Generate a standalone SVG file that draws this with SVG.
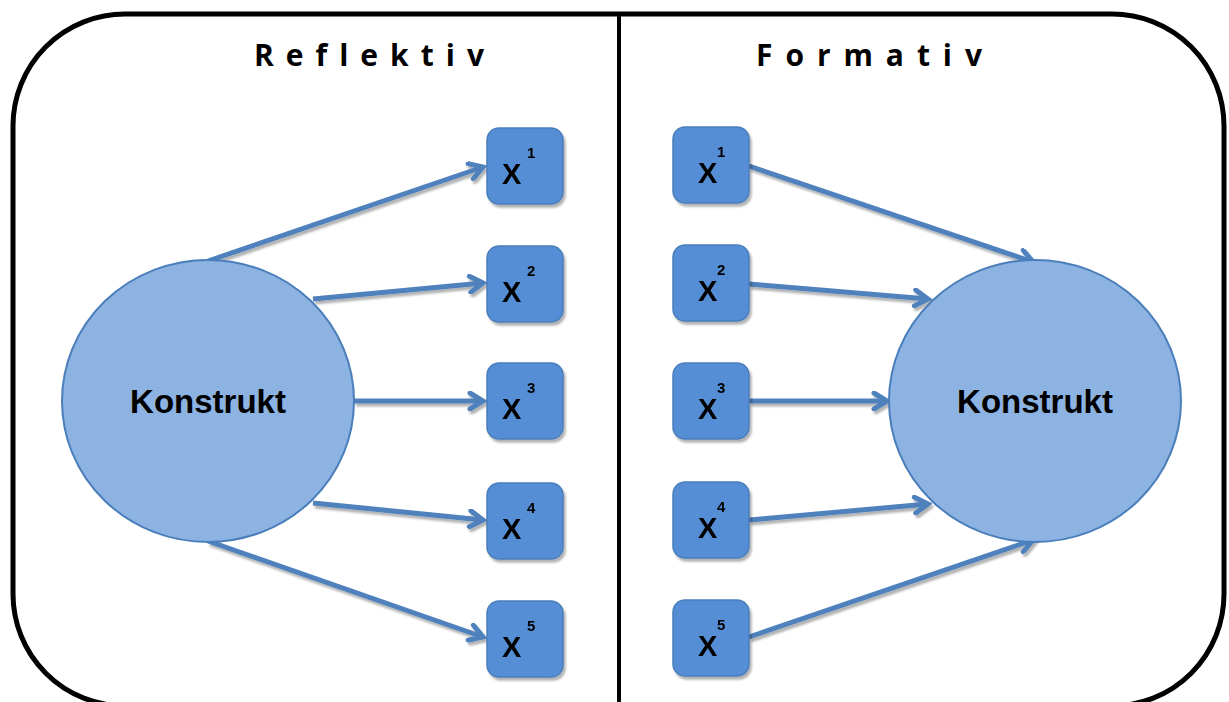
<svg xmlns="http://www.w3.org/2000/svg" width="1229" height="702" viewBox="0 0 1229 702">
<style>
.title{font-family:"Open Sans","Liberation Sans",Arial,sans-serif;font-weight:bold;font-size:30px;fill:#000}
.big{font-family:"Liberation Sans",Arial,sans-serif;font-weight:bold;font-size:33px;fill:#000;text-anchor:middle}
.x{font-family:"Liberation Sans",Arial,sans-serif;font-weight:bold;font-size:29px;fill:#000}
.sup{font-family:"Liberation Sans",Arial,sans-serif;font-weight:bold;font-size:15px;fill:#000}
.circ{fill:#8DB3E2;stroke:#4A7EBB;stroke-width:2}
.box{fill:#558ED5;stroke:#4A7EBB;stroke-width:1.5}
.con{stroke:#4F81BD;stroke-width:5;fill:none;marker-end:url(#arr)}
</style>
<defs>
<marker id="arr" viewBox="-16 -10 20 20" refX="0" refY="0" markerWidth="20" markerHeight="20" markerUnits="userSpaceOnUse" orient="auto">
<path d="M-13,-8 L0,0 L-13,8" fill="none" stroke="#4F81BD" stroke-width="5" stroke-linecap="round" stroke-linejoin="miter"/>
</marker>
<filter id="sh" x="-20%" y="-20%" width="140%" height="140%">
<feDropShadow dx="2" dy="3" stdDeviation="1.2" flood-color="#000" flood-opacity="0.3"/>
</filter>
</defs>
<rect x="13" y="14" width="1211" height="692" rx="112" ry="112" fill="#fff" stroke="#000" stroke-width="5"/>
<line x1="619" y1="14" x2="619" y2="702" stroke="#000" stroke-width="4"/>
<text class="title" x="254" y="66" textLength="230" lengthAdjust="spacing">R e f l e k t i v</text>
<text class="title" x="756" y="66" textLength="226" lengthAdjust="spacing">F o r m a t i v</text>
<g id="connectors" filter="url(#sh)">
<line class="con" x1="208" y1="261" x2="483" y2="167"/>
<line class="con" x1="313" y1="299" x2="483" y2="283"/>
<line class="con" x1="354" y1="401" x2="483" y2="401"/>
<line class="con" x1="313" y1="503" x2="483" y2="520"/>
<line class="con" x1="208" y1="541" x2="483" y2="637"/>
<line class="con" x1="749" y1="166" x2="1033" y2="262"/>
<line class="con" x1="749" y1="284" x2="928" y2="299"/>
<line class="con" x1="749" y1="401" x2="887" y2="401"/>
<line class="con" x1="749" y1="520" x2="928" y2="504"/>
<line class="con" x1="749" y1="637" x2="1033" y2="540"/>
</g>
<g id="konstrukt-left">
<ellipse class="circ" cx="208" cy="401" rx="146" ry="141"/>
<text class="big" x="208" y="413">Konstrukt</text>
</g>
<g id="konstrukt-right">
<ellipse class="circ" cx="1035" cy="401" rx="146" ry="141"/>
<text class="big" x="1035" y="413">Konstrukt</text>
</g>
<g id="l-x1" filter="url(#sh)"><rect class="box" x="487" y="128" width="76" height="76" rx="12"/><text class="x" x="502" y="184">X</text><text class="sup" x="527" y="158">1</text></g>
<g id="l-x2" filter="url(#sh)"><rect class="box" x="487" y="246" width="76" height="76" rx="12"/><text class="x" x="502" y="302">X</text><text class="sup" x="527" y="276">2</text></g>
<g id="l-x3" filter="url(#sh)"><rect class="box" x="487" y="363" width="76" height="76" rx="12"/><text class="x" x="502" y="419">X</text><text class="sup" x="527" y="393">3</text></g>
<g id="l-x4" filter="url(#sh)"><rect class="box" x="487" y="483" width="76" height="76" rx="12"/><text class="x" x="502" y="539">X</text><text class="sup" x="527" y="513">4</text></g>
<g id="l-x5" filter="url(#sh)"><rect class="box" x="487" y="601" width="76" height="76" rx="12"/><text class="x" x="502" y="657">X</text><text class="sup" x="527" y="631">5</text></g>
<g id="r-x1" filter="url(#sh)"><rect class="box" x="673" y="127" width="76" height="76" rx="12"/><text class="x" x="698" y="183">X</text><text class="sup" x="717" y="157">1</text></g>
<g id="r-x2" filter="url(#sh)"><rect class="box" x="673" y="245" width="76" height="76" rx="12"/><text class="x" x="698" y="301">X</text><text class="sup" x="717" y="275">2</text></g>
<g id="r-x3" filter="url(#sh)"><rect class="box" x="673" y="363" width="76" height="76" rx="12"/><text class="x" x="698" y="419">X</text><text class="sup" x="717" y="393">3</text></g>
<g id="r-x4" filter="url(#sh)"><rect class="box" x="673" y="482" width="76" height="76" rx="12"/><text class="x" x="698" y="538">X</text><text class="sup" x="717" y="512">4</text></g>
<g id="r-x5" filter="url(#sh)"><rect class="box" x="673" y="600" width="76" height="76" rx="12"/><text class="x" x="698" y="656">X</text><text class="sup" x="717" y="630">5</text></g>
</svg>
